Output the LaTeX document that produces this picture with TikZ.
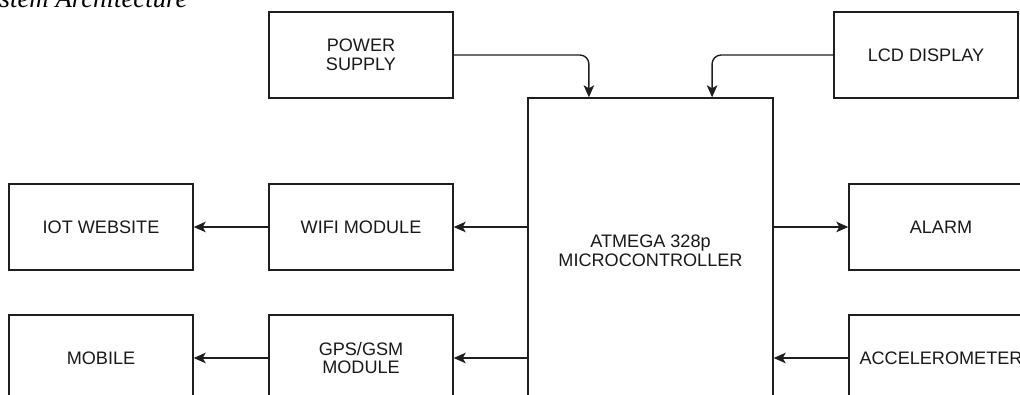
\documentclass[tikz,border=0pt]{standalone}
\usepackage{fontspec}
\setmainfont{Liberation Sans}
\newfontfamily\titlefont{Liberation Serif}
\usetikzlibrary{arrows.meta,calc,positioning}
\definecolor{linegray}{RGB}{30,30,30}
\definecolor{textgray}{RGB}{25,25,25}
\tikzset{
  block/.style={draw=linegray, line width=1.4pt, fill=white,
                minimum width=184pt, minimum height=86pt,
                inner sep=0pt, align=center, text=textgray,
                font=\fontsize{18.1}{18.6}\selectfont},
  flow/.style={-{Stealth[length=12pt,width=10.5pt,inset=3pt]},
               draw=linegray, line width=1.4pt},
}

\begin{document}
\begin{tikzpicture}[x=1pt,y=-1pt]
  \clip (0,0) rectangle (1020,394);

  \node[font=\titlefont\itshape\fontsize{26.8}{28}\selectfont, anchor=base west,
        inner sep=0pt, text=black] (title) at (-0.5,7) {stem Architecture};

  \node[block] (ps)    at (361,55)    {POWER\\SUPPLY};
  \node[block] (lcd)   at (926,55)    {LCD DISPLAY};
  \node[block, minimum width=245pt, minimum height=306pt] (mcu) at (650.5,251)
    {ATMEGA 328p\\MICROCONTROLLER};
  \node[block] (iot)   at (101,227)   {IOT WEBSITE};
  \node[block] (wifi)  at (361,227)   {WIFI MODULE};
  \node[block] (alarm) at (941,227)   {ALARM};
  \node[block] (mob)   at (101,358)   {MOBILE};
  \node[block] (gps)   at (361,358)   {GPS/GSM\\MODULE};
  \node[block] (acc)   at (941,358)   {ACCELEROMETER};

  \coordinate (mcuA) at ($(mcu.north west)!0.25!(mcu.north east)$);
  \coordinate (mcuB) at ($(mcu.north west)!0.75!(mcu.north east)$);

  \draw[flow, rounded corners=9pt] (ps.east) -| (mcuA);
  \draw[flow, rounded corners=9pt] (lcd.west) -| (mcuB);
  \draw[flow] (wifi.east -| mcu.west) -- (wifi.east);
  \draw[flow] (wifi.west) -- (iot.east);
  \draw[flow] (gps.east -| mcu.west) -- (gps.east);
  \draw[flow] (gps.west) -- (mob.east);
  \draw[flow] (alarm.west -| mcu.east) -- (alarm.west);
  \draw[flow] (acc.west) -- (acc.west -| mcu.east);
\end{tikzpicture}
\end{document}
